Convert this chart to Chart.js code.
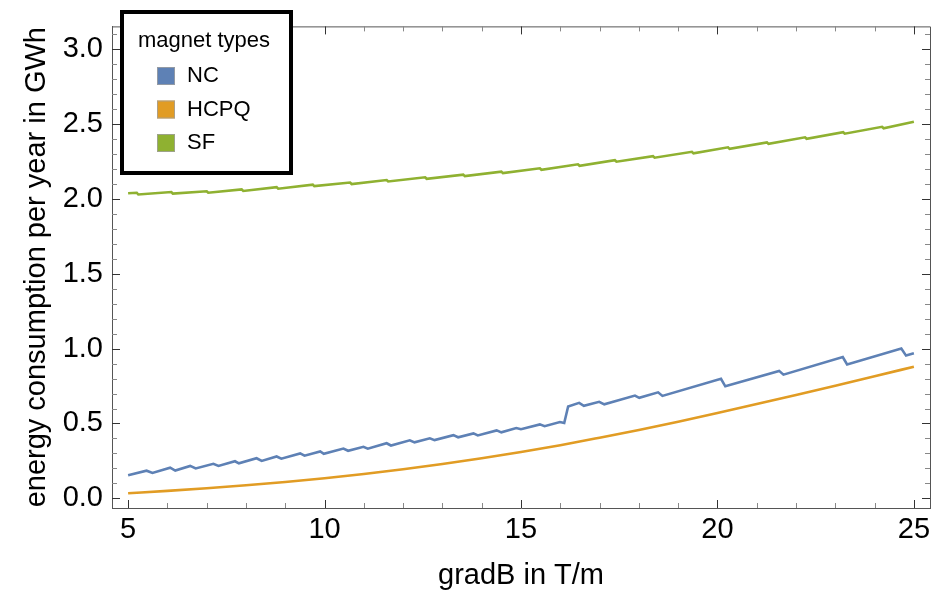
<!DOCTYPE html>
<html>
<head>
<meta charset="utf-8">
<script src="https://cdn.jsdelivr.net/npm/chart.js@4.4.1/dist/chart.umd.min.js"></script>
<style>
  html, body { margin: 0; padding: 0; background: #fff; }
  #wrap { width: 938px; height: 590px; }
</style>
</head>
<body>
<div id="wrap"><canvas id="energyChart" width="938" height="590"></canvas></div>
<script>
// values (gradB in T/m -> GWh per year)
const seriesNames = ["NC", "HCPQ", "SF"];

const ncX = [5.0, 5.47, 5.62, 6.07, 6.2, 6.58, 6.72, 7.17, 7.3, 7.72, 7.82, 8.27, 8.4, 8.78, 8.9,
  9.38, 9.49, 9.89, 9.98, 10.48, 10.6, 10.99, 11.1, 11.58, 11.69, 12.17, 12.29, 12.68, 12.8,
  13.28, 13.4, 13.79, 13.9, 14.38, 14.5, 14.88, 15.0, 15.48, 15.6, 15.99, 16.1, 16.2, 16.48,
  16.6, 16.99, 17.12, 17.9, 18.01, 18.49, 18.6, 20.09, 20.2, 21.57, 21.68, 23.19, 23.3, 24.68,
  24.8, 25.0];
const ncY = [0.155, 0.185, 0.17, 0.205, 0.186, 0.217, 0.2, 0.231, 0.217, 0.248, 0.234, 0.268, 0.25, 0.28, 0.265,
  0.3, 0.285, 0.313, 0.298, 0.333, 0.318, 0.344, 0.332, 0.368, 0.353, 0.388, 0.374, 0.401, 0.389,
  0.422, 0.408, 0.434, 0.42, 0.454, 0.441, 0.47, 0.462, 0.494, 0.482, 0.51, 0.503, 0.613, 0.638,
  0.618, 0.645, 0.628, 0.686, 0.671, 0.708, 0.684, 0.798, 0.748, 0.851, 0.826, 0.943, 0.894, 1.0,
  0.953, 0.968];

const hcpqX = [5, 6, 7, 8, 9, 10, 11, 12, 13, 14, 15, 16, 17, 18, 19, 20, 21, 22, 23, 24, 25];
const hcpqY = [0.034, 0.05, 0.068, 0.088, 0.11, 0.135, 0.163, 0.195, 0.23, 0.268, 0.31, 0.355,
  0.405, 0.457, 0.512, 0.57, 0.63, 0.69, 0.752, 0.815, 0.879];

const sfX = [5.0, 5.22, 5.26, 6.1, 6.14, 7.0, 7.04, 7.89, 7.93, 8.78, 8.82, 9.7, 9.74, 10.65, 10.69,
  11.58, 11.62, 12.56, 12.6, 13.53, 13.57, 14.5, 14.54, 15.48, 15.52, 16.45, 16.49, 17.39, 17.43,
  18.36, 18.4, 19.35, 19.39, 20.27, 20.31, 21.26, 21.3, 22.23, 22.27, 23.2, 23.24, 24.19, 24.23, 25.0];
const sfY = [2.036, 2.04, 2.028, 2.045, 2.034, 2.05, 2.04, 2.062, 2.052, 2.077, 2.067, 2.094, 2.084, 2.108, 2.098,
  2.125, 2.115, 2.143, 2.133, 2.161, 2.151, 2.181, 2.171, 2.203, 2.193, 2.23, 2.22, 2.257, 2.247,
  2.284, 2.274, 2.313, 2.303, 2.343, 2.333, 2.376, 2.366, 2.41, 2.4, 2.444, 2.434, 2.48, 2.47, 2.514];

const xTickLabels = [5, 10, 15, 20, 25];
const yTickLabels = [0, 0.5, 1, 1.5, 2, 2.5, 3];

const colors = ["#5e81b5", "#e19c24", "#8fb131"];
const FONT = "'Liberation Sans', Arial, sans-serif";

function toPoints(xs, ys) {
  return xs.map(function (x, i) { return { x: x, y: ys[i] }; });
}

// frame ticks pointing inward on all four sides, like the original
const frameTicks = {
  id: "frameTicks",
  afterDatasetsDraw(chart) {
    const ctx = chart.ctx;
    const a = chart.chartArea;
    const xs = chart.scales.x;
    const ys = chart.scales.y;
    ctx.save();
    ctx.lineWidth = 1;
    ctx.strokeStyle = "#555";
    ctx.beginPath();
    ctx.moveTo(a.left, a.top + 0.5);
    ctx.lineTo(a.right + 0.5, a.top + 0.5);
    ctx.lineTo(a.right + 0.5, a.bottom);
    ctx.stroke();

    for (let i = 5; i <= 25; i++) {
      const px = Math.round(xs.getPixelForValue(i)) + 0.5;
      const len = i % 5 === 0 ? 8 : 5;
      ctx.strokeStyle = i % 5 === 0 ? "#333" : "#888";
      ctx.beginPath();
      ctx.moveTo(px, a.bottom);
      ctx.lineTo(px, a.bottom - len);
      ctx.moveTo(px, a.top);
      ctx.lineTo(px, a.top + len);
      ctx.stroke();
    }
    for (let j = 0; j <= 31; j++) {
      const py = Math.round(ys.getPixelForValue(j / 10)) + 0.5;
      const len = j % 5 === 0 ? 8 : 5;
      ctx.strokeStyle = j % 5 === 0 ? "#333" : "#888";
      ctx.beginPath();
      ctx.moveTo(a.left, py);
      ctx.lineTo(a.left + len, py);
      ctx.moveTo(a.right, py);
      ctx.lineTo(a.right - len, py);
      ctx.stroke();
    }
    ctx.restore();
  },
};

// boxed legend inside the plot
const boxLegend = {
  id: "boxLegend",
  afterDraw(chart) {
    const ctx = chart.ctx;
    ctx.save();
    ctx.fillStyle = "#fff";
    ctx.fillRect(122, 12, 169, 161);
    ctx.lineWidth = 4;
    ctx.strokeStyle = "#000";
    ctx.strokeRect(122, 12, 169, 161);

    ctx.fillStyle = "#000";
    ctx.font = "22px " + FONT;
    ctx.textBaseline = "alphabetic";
    ctx.fillText("magnet types", 138, 47);

    chart.data.datasets.forEach(function (ds, i) {
      const top = 67 + i * 33.5;
      ctx.fillStyle = ds.borderColor;
      ctx.fillRect(157, top, 18, 18);
      ctx.lineWidth = 1;
      ctx.strokeStyle = "rgba(160,160,160,0.8)";
      ctx.strokeRect(157.5, top + 0.5, 17, 17);
      ctx.fillStyle = "#000";
      ctx.fillText(ds.label, 187, top + 15);
    });
    ctx.restore();
  },
};

const datasets = [
  toPoints(ncX, ncY),
  toPoints(hcpqX, hcpqY),
  toPoints(sfX, sfY),
].map(function (pts, i) {
  return {
    label: seriesNames[i],
    data: pts,
    borderColor: colors[i],
    backgroundColor: colors[i],
    borderWidth: 2.6,
    pointRadius: 0,
    tension: i === 1 ? 0.4 : 0,
    cubicInterpolationMode: i === 1 ? "monotone" : "default",
    fill: false,
  };
});

var ctx = document.getElementById("energyChart").getContext("2d");
var energyChart = new Chart(ctx, {
  type: "line",
  data: { datasets: datasets },
  options: {
    responsive: false,
    animation: false,
    parsing: false,
    layout: { padding: { top: 3, right: 8, left: 0, bottom: 0 } },
    plugins: {
      legend: { display: false },
      tooltip: { enabled: false },
    },
    scales: {
      x: {
        type: "linear",
        min: 4.59,
        max: 25.41,
        afterFit(scale) { scale.height = 82; },
        afterBuildTicks(scale) {
          scale.ticks = xTickLabels.map(function (v) { return { value: v }; });
        },
        grid: { display: false, drawTicks: false },
        border: { display: true, color: "#555", width: 1 },
        ticks: {
          padding: 5,
          color: "#000",
          font: { family: FONT, size: 29 },
          callback: function (v) { return String(v); },
        },
        title: {
          display: true,
          text: "gradB in T/m",
          color: "#000",
          font: { family: FONT, size: 29, lineHeight: 1 },
          padding: { top: 0, bottom: 0 },
        },
      },
      y: {
        type: "linear",
        min: -0.064,
        max: 3.15,
        afterFit(scale) { scale.width = 112; },
        afterBuildTicks(scale) {
          scale.ticks = yTickLabels.map(function (v) { return { value: v }; });
        },
        grid: { display: false, drawTicks: false },
        border: { display: true, color: "#555", width: 1 },
        ticks: {
          padding: 9,
          color: "#000",
          font: { family: FONT, size: 29 },
          callback: function (v) { return Number(v).toFixed(1); },
        },
        title: {
          display: true,
          text: "energy consumption per year in GWh",
          color: "#000",
          font: { family: FONT, size: 29, lineHeight: 1 },
          padding: { top: 22, bottom: 0 },
        },
      },
    },
  },
  plugins: [frameTicks, boxLegend],
});
</script>
</body>
</html>
